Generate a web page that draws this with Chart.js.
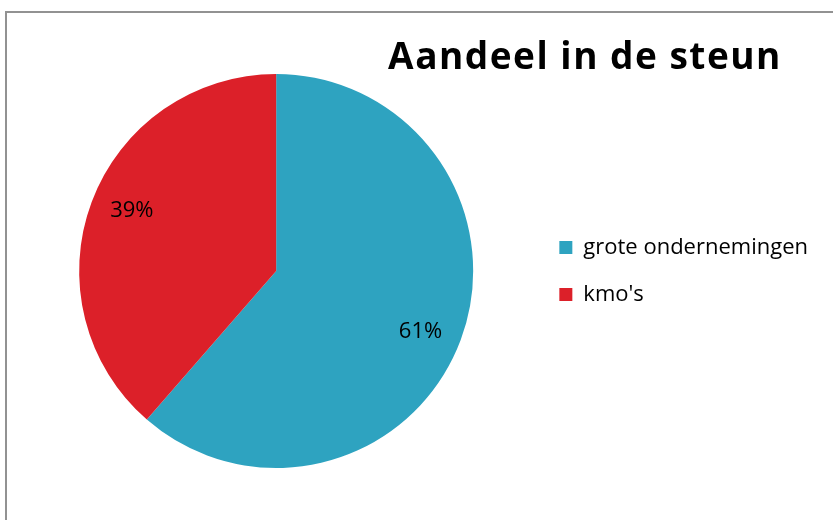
<!DOCTYPE html>
<html>
<head>
<meta charset="utf-8">
<script src="https://cdn.jsdelivr.net/npm/chart.js@4.4.0/dist/chart.umd.min.js"></script>
<style>
  html, body { margin: 0; padding: 0; background: #fff; overflow: hidden; }
  #wrap { position: relative; width: 833px; height: 520px; }
  #frame { position: absolute; left: 5px; top: 11px; width: 900px; height: 600px; border: 2px solid #929292; }
  #chart { position: absolute; left: 0; top: 0; }
</style>
</head>
<body>
<div id="wrap">
  <div id="frame"></div>
  <canvas id="chart" width="833" height="520"></canvas>
</div>
<script>
const labels = ['grote ondernemingen', "kmo's"];
const shares = [61.4, 38.6];
const colors = ['#2ea3c0', '#dc2029'];
const chartTitle = 'Aandeel in de steun';

// percentages written inside each slice
const pctLabels = {
  id: 'pctLabels',
  afterDatasetsDraw(chart) {
    const ctx = chart.ctx;
    const meta = chart.getDatasetMeta(0);
    const total = shares.reduce((a, b) => a + b, 0);
    ctx.save();
    ctx.font = '22px "Open Sans"';
    ctx.fillStyle = '#000';
    ctx.textAlign = 'center';
    ctx.textBaseline = 'middle';
    meta.data.forEach((arc, i) => {
      const p = arc.getProps(['x', 'y', 'startAngle', 'endAngle', 'outerRadius'], true);
      const mid = (p.startAngle + p.endAngle) / 2 + 0.04;
      const r = p.outerRadius * 0.795;
      ctx.fillText(Math.round(shares[i] / total * 100) + '%', p.x + Math.cos(mid) * r, p.y + Math.sin(mid) * r);
    });
    ctx.restore();
  }
};

// title sits top right, over the pie's row, so draw it outside the layout
const titlePlugin = {
  id: 'titlePlugin',
  afterDraw(chart) {
    const ctx = chart.ctx;
    ctx.save();
    ctx.font = 'bold 37px "Open Sans"';
    ctx.letterSpacing = '1.5px';
    ctx.fillStyle = '#000';
    ctx.textAlign = 'center';
    ctx.textBaseline = 'alphabetic';
    ctx.fillText(chartTitle, 585, 69);
    ctx.restore();
  }
};

const chart = new Chart(document.getElementById('chart'), {
  type: 'pie',
  data: {
    labels: labels,
    datasets: [{
      data: shares,
      backgroundColor: colors,
      borderWidth: 0
    }]
  },
  options: {
    responsive: false,
    animation: false,
    layout: {
      padding: { top: 74, bottom: 52, left: 18, right: 15 }
    },
    plugins: {
      title: { display: false },
      tooltip: { enabled: false },
      legend: {
        display: true,
        position: 'right',
        align: 'center',
        labels: {
          boxWidth: 13,
          boxHeight: 13,
          padding: 25,
          color: '#000',
          font: { family: '"Open Sans"', size: 22 }
        }
      }
    }
  },
  plugins: [pctLabels, titlePlugin]
});
</script>
</body>
</html>
